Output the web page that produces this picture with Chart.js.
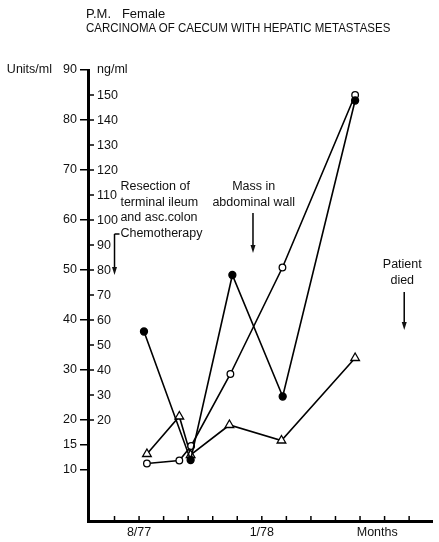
<!DOCTYPE html>
<html>
<head>
<meta charset="utf-8">
<script src="https://cdn.jsdelivr.net/npm/chart.js@4"></script>
<style>
  html, body { margin: 0; padding: 0; background: #fff; }
  #wrap { position: relative; width: 439px; height: 542px; }
  .head { position: absolute; left: 86px; font-family: "Liberation Sans", Arial, sans-serif;
          font-size: 13px; color: #111; white-space: pre; transform-origin: 0 0; }
  .narrow { transform: scaleX(0.884); }
</style>
</head>
<body>
<div id="wrap">
  <canvas id="myChart" width="439" height="542"></canvas>
  <div class="head" style="top:6px">P.M.   Female</div>
  <div class="head narrow" style="top:20px">CARCINOMA OF CAECUM WITH HEPATIC METASTASES</div>
</div>
<script>
// valores (eje izquierdo, Units/ml; eje x en meses desde 7/77)
const filledMonths = [1.2, 3.1, 4.8, 6.85, 9.8];
const filledValues = [37.7, 12, 49, 24.7, 83.9];
const openMonths = [1.32, 2.64, 3.12, 4.72, 6.84, 9.8];
const openValues = [11.3, 11.9, 14.8, 29.2, 50.5, 85];
const triMonths = [1.32, 2.64, 3.1, 4.68, 6.8, 9.8];
const triValues = [13.2, 20.7, 13, 19, 15.9, 32.4];

const unitTicks = [10, 15, 20, 30, 40, 50, 60, 70, 80, 90];
const ngTicks = [20, 30, 40, 50, 60, 70, 80, 90, 100, 110, 120, 130, 140, 150];
const monthTicks = [0, 1, 2, 3, 4, 5, 6, 7, 8, 9, 10, 11, 12];
const xLabelValues = [1, 6, 10.7];
const xLabelTexts = ['8/77', '1/78', 'Months'];

const FONT = '"Liberation Sans", Arial, sans-serif';

function toPoints(xs, ys) {
    return xs.map((x, i) => ({ x: x, y: ys[i] }));
}

// ng/ml -> Units/ml en la misma linea de eje
const ngToUnits = ng => (ng + 20) / 2;

// dibuja el eje ng/ml, las marcas de meses y las anotaciones
const extras = {
    id: 'extras',
    afterDraw(chart) {
        const ctx = chart.ctx;
        const xs = chart.scales.x;
        const ys = chart.scales.y;
        const ax = chart.chartArea.left;
        ctx.save();
        ctx.strokeStyle = '#000';
        ctx.fillStyle = '#111';
        ctx.lineWidth = 1.5;

        // eje derecho ng/ml
        ctx.font = '12.5px ' + FONT;
        ctx.textAlign = 'left';
        ctx.textBaseline = 'middle';
        ngTicks.forEach(ng => {
            const y = ys.getPixelForValue(ngToUnits(ng));
            ctx.beginPath();
            ctx.moveTo(ax, y);
            ctx.lineTo(ax + 6, y);
            ctx.stroke();
            ctx.fillText(String(ng), ax + 9, y + 1);
        });
        ctx.fillText('ng/ml', ax + 9, ys.getPixelForValue(90));
        ctx.textAlign = 'right';
        ctx.fillText('Units/ml', 52, ys.getPixelForValue(90));

        // marcas de meses hacia dentro
        const bottom = chart.chartArea.bottom;
        monthTicks.forEach(m => {
            const x = xs.getPixelForValue(m);
            ctx.beginPath();
            ctx.moveTo(x, bottom);
            ctx.lineTo(x, bottom - 5);
            ctx.stroke();
        });

        // anotaciones
        ctx.font = '12.5px ' + FONT;
        ctx.textBaseline = 'middle';
        ctx.textAlign = 'left';
        const rx = xs.getPixelForValue(0.24);
        ['Resection of', 'terminal ileum', 'and asc.colon', 'Chemotherapy'].forEach((t, i) => {
            ctx.fillText(t, rx, 187 + i * 15.5);
        });
        ctx.textAlign = 'center';
        const mx = xs.getPixelForValue(5.67);
        ctx.fillText('Mass in', mx, 187);
        ctx.fillText('abdominal wall', mx, 202.5);
        const px = xs.getPixelForValue(11.72);
        ctx.fillText('Patient', px, 265);
        ctx.fillText('died', px, 281);

        function arrow(x, y1, y2) {
            ctx.beginPath();
            ctx.moveTo(x, y1);
            ctx.lineTo(x, y2 - 6);
            ctx.stroke();
            ctx.beginPath();
            ctx.moveTo(x - 2.5, y2 - 8);
            ctx.lineTo(x + 2.5, y2 - 8);
            ctx.lineTo(x, y2);
            ctx.closePath();
            ctx.fill();
        }
        const cx = xs.getPixelForValue(0);
        ctx.beginPath();
        ctx.moveTo(cx + 5, 234);
        ctx.lineTo(cx, 234);
        ctx.stroke();
        arrow(cx, 234, ys.getPixelForValue(49));
        arrow(xs.getPixelForValue(5.64), 213, ys.getPixelForValue(53.4));
        arrow(xs.getPixelForValue(11.8), 292, ys.getPixelForValue(38));
        ctx.restore();
    }
};

const lineStyle = {
    borderColor: '#000',
    borderWidth: 1.6,
    pointBorderColor: '#000',
    pointBorderWidth: 1.3,
    tension: 0,
    clip: false,
    showLine: true
};

new Chart(document.getElementById('myChart').getContext('2d'), {
    type: 'scatter',
    data: {
        datasets: [
            Object.assign({
                label: 'filled',
                data: toPoints(filledMonths, filledValues),
                pointStyle: 'circle',
                pointRadius: 3.5,
                pointBackgroundColor: '#000'
            }, lineStyle),
            Object.assign({
                label: 'open',
                data: toPoints(openMonths, openValues),
                pointStyle: 'circle',
                pointRadius: 3.3,
                pointBackgroundColor: '#fff'
            }, lineStyle),
            Object.assign({
                label: 'triangle',
                data: toPoints(triMonths, triValues),
                pointStyle: 'triangle',
                pointRadius: 5,
                pointBackgroundColor: '#fff'
            }, lineStyle)
        ]
    },
    options: {
        responsive: false,
        animation: false,
        layout: { padding: { top: 70, right: 0, left: 0, bottom: 0 } },
        plugins: {
            legend: { display: false },
            tooltip: { enabled: false }
        },
        scales: {
            x: {
                type: 'linear',
                min: -1.08,
                max: 12.96,
                afterFit: s => { s.height = 21; },
                afterBuildTicks: s => { s.ticks = xLabelValues.map(v => ({ value: v })); },
                border: { color: '#000', width: 3 },
                grid: { display: true, drawOnChartArea: false, drawTicks: false, color: 'rgba(0,0,0,0)' },
                ticks: {
                    padding: 4,
                    color: '#111',
                    font: { family: FONT, size: 12.5 },
                    maxRotation: 0,
                    autoSkip: false,
                    callback: (v) => xLabelTexts[xLabelValues.indexOf(v)]
                }
            },
            y: {
                type: 'linear',
                min: -0.2,
                max: 90,
                afterFit: s => { s.width = 88; },
                afterBuildTicks: s => { s.ticks = unitTicks.map(v => ({ value: v })); },
                border: { color: '#000', width: 3 },
                grid: { drawOnChartArea: false, tickLength: 8, color: '#000', lineWidth: 1.5 },
                ticks: {
                    padding: 3,
                    color: '#111',
                    font: { family: FONT, size: 12.5 },
                    autoSkip: false
                }
            }
        }
    },
    plugins: [extras]
});
</script>
</body>
</html>
